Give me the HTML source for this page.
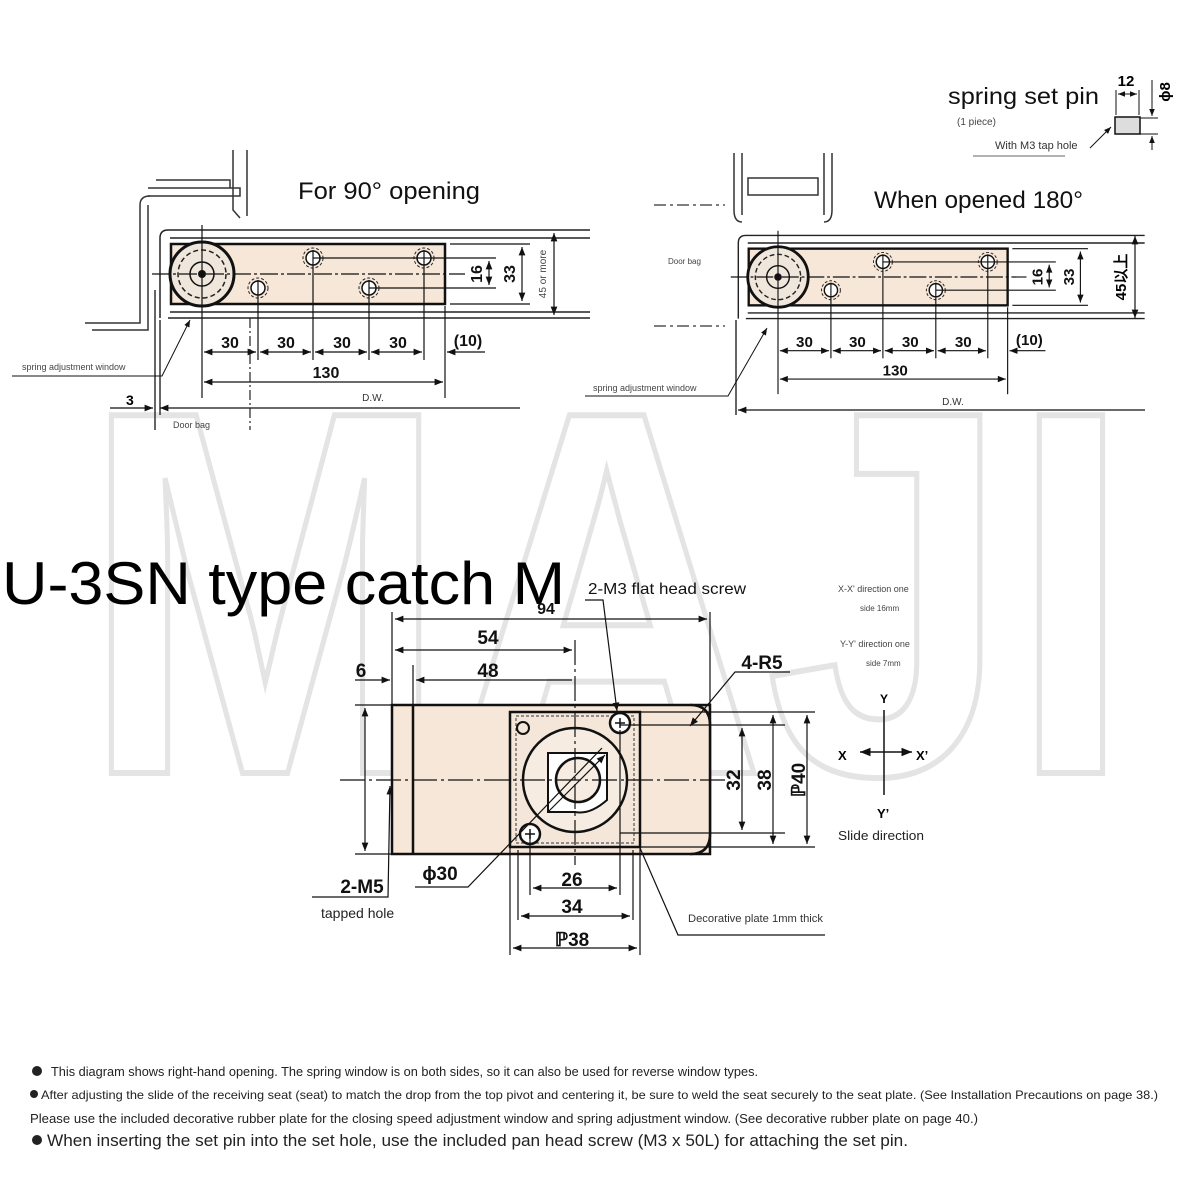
<!DOCTYPE html>
<html><head><meta charset="utf-8"><style>
body{margin:0;background:#fff}
svg{display:block}
text{font-family:"Liberation Sans",sans-serif}
</style></head><body>
<svg width="1200" height="1200" viewBox="0 0 1200 1200" xmlns="http://www.w3.org/2000/svg">
<defs>
<marker id="a" viewBox="0 0 10 10" refX="10" refY="5" markerWidth="9" markerHeight="7" orient="auto-start-reverse"><path d="M0,1 L10,5 L0,9 z" fill="#111"/></marker>
<g id="hinge">
  <path d="M160,318 L160,238 Q160,230 168,230 L590,230 M168,318 L590,318 M170,238 L590,238 M170,312 L590,312" fill="none" stroke="#222" stroke-width="1.5"/>
  <rect x="171" y="244" width="274" height="60" fill="#f7e7d8" stroke="#111" stroke-width="2.5"/>
  <circle cx="202" cy="274" r="32" fill="#efe6dc" stroke="#111" stroke-width="3"/>
  <circle cx="202" cy="274" r="24" fill="none" stroke="#222" stroke-width="1.5" stroke-dasharray="5 3"/>
  <circle cx="202" cy="274" r="12" fill="none" stroke="#111" stroke-width="1.5"/>
  <circle cx="202" cy="274" r="4" fill="#111"/>
  <g fill="#fff" stroke="#111" stroke-width="1.5">
   <circle cx="313" cy="258" r="7"/><circle cx="424" cy="258" r="7"/><circle cx="258" cy="288" r="7"/><circle cx="369" cy="288" r="7"/>
  </g>
  <g fill="none" stroke="#222" stroke-width="1" stroke-dasharray="3 2">
   <circle cx="313" cy="258" r="10"/><circle cx="424" cy="258" r="10"/><circle cx="258" cy="288" r="10"/><circle cx="369" cy="288" r="10"/>
  </g>
  <g stroke="#111" stroke-width="1.2">
   <line x1="152" y1="274" x2="465" y2="274" stroke-dasharray="18 3 3 3"/>
   <line x1="202" y1="225" x2="202" y2="398"/>
   <line x1="258" y1="280" x2="258" y2="360"/>
   <line x1="313" y1="250" x2="313" y2="360"/>
   <line x1="369" y1="280" x2="369" y2="360"/>
   <line x1="424" y1="250" x2="424" y2="360"/>
   <line x1="445" y1="306" x2="445" y2="398"/>
   <line x1="313" y1="258" x2="496" y2="258"/><line x1="369" y1="288" x2="496" y2="288"/>
   <line x1="450" y1="244" x2="530" y2="244"/><line x1="450" y1="304" x2="530" y2="304"/>
   <line x1="489" y1="261" x2="489" y2="285" marker-start="url(#a)" marker-end="url(#a)"/>
   <line x1="522" y1="247" x2="522" y2="301" marker-start="url(#a)" marker-end="url(#a)"/>
   <line x1="204" y1="352" x2="256" y2="352" marker-start="url(#a)" marker-end="url(#a)"/>
   <line x1="260" y1="352" x2="311" y2="352" marker-start="url(#a)" marker-end="url(#a)"/>
   <line x1="315" y1="352" x2="367" y2="352" marker-start="url(#a)" marker-end="url(#a)"/>
   <line x1="371" y1="352" x2="422" y2="352" marker-start="url(#a)" marker-end="url(#a)"/>
   <line x1="447" y1="352" x2="485" y2="352" marker-start="url(#a)"/>
   <line x1="204" y1="382" x2="443" y2="382" marker-start="url(#a)" marker-end="url(#a)"/>
  </g>
  <g font-weight="bold" font-size="16" fill="#111" text-anchor="middle">
   <text x="230" y="348">30</text><text x="286" y="348">30</text><text x="342" y="348">30</text><text x="398" y="348">30</text>
   <text x="468" y="346">(10)</text><text x="326" y="378">130</text>
   <text transform="translate(482,274) rotate(-90)">16</text>
   <text transform="translate(515,274) rotate(-90)">33</text>
  </g>
</g>
</defs>

<text x="82" y="773" font-size="520" font-weight="bold" textLength="1050" lengthAdjust="spacingAndGlyphs" fill="#fff" stroke="#e4e4e4" stroke-width="6">MAJI</text>

<g fill="none" stroke="#333" stroke-width="1.5">
 <path d="M233,150 L233,210 L240,218 M247,150 L247,216 M148,188 L240,188 L240,196 L148,196 M156,180 L230,180 L230,188"/>
 <path d="M85,323 L140,323 L140,205 Q140,196 150,196 M92,330 L148,330 L148,205"/>
 <line x1="155" y1="290" x2="155" y2="430"/><line x1="160" y1="320" x2="160" y2="415"/>
</g>
<use href="#hinge"/>
<line x1="554" y1="233" x2="554" y2="315" stroke="#111" stroke-width="1.2" marker-start="url(#a)" marker-end="url(#a)"/>
<text x="546" y="274" font-size="10" fill="#444" transform="rotate(-90 546 274)" text-anchor="middle">45 or more</text>
<line x1="160" y1="408" x2="520" y2="408" stroke="#111" stroke-width="1.2" marker-start="url(#a)"/>
<line x1="110" y1="408" x2="153" y2="408" stroke="#111" stroke-width="1.2" marker-end="url(#a)"/>
<line x1="250" y1="318" x2="250" y2="430" stroke="#222" stroke-width="1.2" stroke-dasharray="10 3 2 3"/>
<text x="373" y="401" font-size="10" fill="#333" text-anchor="middle">D.W.</text>
<text x="173" y="428" font-size="9" fill="#444">Door bag</text>
<text x="126" y="405" font-size="14" font-weight="bold">3</text>
<text x="22" y="370" font-size="9" fill="#444">spring adjustment window</text>
<polyline points="12,376 162,376 190,320" fill="none" stroke="#111" stroke-width="1" marker-end="url(#a)"/>
<text x="298" y="199" font-size="24" fill="#111" textLength="182" lengthAdjust="spacingAndGlyphs">For 90° opening</text>

<g fill="none" stroke="#333" stroke-width="1.5">
 <path d="M734,153 L734,210 Q734,222 742,222 M742,153 L742,215 M824,153 L824,215 M832,153 L832,210 Q832,222 824,222 M748,178 L818,178 L818,195 L748,195 Z"/>
 <line x1="736" y1="320" x2="736" y2="415"/>
</g>
<line x1="654" y1="205" x2="725" y2="205" stroke="#333" stroke-width="1.2" stroke-dasharray="12 4 3 4"/>
<line x1="654" y1="326" x2="725" y2="326" stroke="#333" stroke-width="1.2" stroke-dasharray="12 4 3 4"/>
<g transform="translate(778,277) scale(0.945) translate(-202,-274)"><use href="#hinge"/></g>
<line x1="1135" y1="236" x2="1135" y2="318" stroke="#111" stroke-width="1.2" marker-start="url(#a)" marker-end="url(#a)"/>
<text x="1126" y="277" font-size="15" font-weight="bold" transform="rotate(-90 1126 277)" text-anchor="middle" font-family="Liberation Sans, Noto Sans CJK SC, sans-serif">45以上</text>
<line x1="738" y1="410" x2="1145" y2="410" stroke="#111" stroke-width="1.2" marker-start="url(#a)"/>
<text x="953" y="405" font-size="10" fill="#333" text-anchor="middle">D.W.</text>
<text x="668" y="264" font-size="8" fill="#444">Door bag</text>
<text x="593" y="391" font-size="9" fill="#444">spring adjustment window</text>
<polyline points="585,396 728,396 767,328" fill="none" stroke="#111" stroke-width="1" marker-end="url(#a)"/>
<text x="874" y="208" font-size="24" fill="#111" textLength="209" lengthAdjust="spacingAndGlyphs">When opened 180°</text>

<text x="948" y="104" font-size="23" fill="#111" textLength="151" lengthAdjust="spacingAndGlyphs">spring set pin</text>
<text x="957" y="125" font-size="10" fill="#444">(1 piece)</text>
<text x="995" y="149" font-size="11" fill="#333">With M3 tap hole</text>
<line x1="973" y1="156" x2="1065" y2="156" stroke="#666"/>
<line x1="1090" y1="148" x2="1111" y2="127" stroke="#111" marker-end="url(#a)"/>
<rect x="1115" y="117" width="25" height="17" fill="#ddd" stroke="#111" stroke-width="1.5"/>
<line x1="1140" y1="118" x2="1158" y2="118" stroke="#111"/><line x1="1140" y1="134" x2="1158" y2="134" stroke="#111"/>
<line x1="1116" y1="90" x2="1116" y2="115" stroke="#111"/><line x1="1139" y1="90" x2="1139" y2="115" stroke="#111"/>
<line x1="1118" y1="94" x2="1137" y2="94" stroke="#111" marker-start="url(#a)" marker-end="url(#a)"/>
<text x="1126" y="86" font-size="15" font-weight="bold" text-anchor="middle">12</text>
<line x1="1152" y1="80" x2="1152" y2="116" stroke="#111" marker-end="url(#a)"/>
<line x1="1152" y1="150" x2="1152" y2="136" stroke="#111" marker-end="url(#a)"/>
<text x="1170" y="92" font-size="15" font-weight="bold" transform="rotate(-90 1170 92)" text-anchor="middle">ϕ8</text>

<text x="2" y="604" font-size="60" fill="#000" textLength="563" lengthAdjust="spacingAndGlyphs">U-3SN type catch M</text>
<rect x="392" y="705" width="318" height="149" fill="#f7e7d8" stroke="#111" stroke-width="2.5"/>
<path d="M690,705 Q710,705 710,725 L710,834 Q710,854 690,854" fill="#f7e7d8" stroke="#111" stroke-width="2.5"/>
<line x1="413" y1="705" x2="413" y2="854" stroke="#111" stroke-width="2.5"/>
<rect x="510" y="712" width="130" height="135" fill="#f4e6d8" stroke="#111" stroke-width="2.5"/>
<rect x="516" y="716" width="118" height="127" fill="none" stroke="#333" stroke-width="1" stroke-dasharray="3 2"/>
<circle cx="575" cy="780" r="52" fill="#f7ece2" stroke="#111" stroke-width="2.5"/>
<path d="M548,753 L607,753 L607,800 Q590,815 575,812 L548,812 Z" fill="#fff" stroke="#111" stroke-width="2"/>
<circle cx="578" cy="780" r="22" fill="#f7ece2" stroke="#111" stroke-width="2.5"/>
<circle cx="620" cy="723" r="10" fill="#fff" stroke="#111" stroke-width="2.5"/>
<circle cx="530" cy="834" r="10" fill="#fff" stroke="#111" stroke-width="2.5"/>
<path d="M615,723 h10 M620,718 v10 M525,834 h10 M530,829 v10" stroke="#111" stroke-width="1.5"/>
<circle cx="523" cy="728" r="6" fill="none" stroke="#111" stroke-width="2"/>
<g stroke="#111" stroke-width="1.2" fill="none">
 <line x1="340" y1="780" x2="725" y2="780" stroke-dasharray="25 4 3 4"/>
 <line x1="575" y1="640" x2="575" y2="865" stroke-dasharray="25 4 3 4"/>
 <line x1="392" y1="612" x2="392" y2="705"/><line x1="710" y1="612" x2="710" y2="705"/>
 <line x1="413" y1="665" x2="413" y2="705"/>
 <line x1="395" y1="619" x2="707" y2="619" marker-start="url(#a)" marker-end="url(#a)"/>
 <line x1="395" y1="650" x2="572" y2="650" marker-start="url(#a)" marker-end="url(#a)"/>
 <line x1="416" y1="680" x2="572" y2="680" marker-start="url(#a)"/>
 <line x1="355" y1="680" x2="390" y2="680" marker-end="url(#a)"/>
 <line x1="355" y1="705" x2="392" y2="705"/><line x1="355" y1="854" x2="392" y2="854"/>
 <line x1="365" y1="708" x2="365" y2="851" marker-start="url(#a)" marker-end="url(#a)"/>
 <line x1="640" y1="712" x2="815" y2="712"/><line x1="620" y1="725" x2="785" y2="725"/><line x1="620" y1="833" x2="785" y2="833"/><line x1="640" y1="847" x2="815" y2="847"/>
 <line x1="742" y1="728" x2="742" y2="830" marker-start="url(#a)" marker-end="url(#a)"/>
 <line x1="773" y1="715" x2="773" y2="844" marker-start="url(#a)" marker-end="url(#a)"/>
 <line x1="807" y1="715" x2="807" y2="844" marker-start="url(#a)" marker-end="url(#a)"/>
 <line x1="530" y1="834" x2="530" y2="895"/><line x1="620" y1="730" x2="620" y2="895"/>
 <line x1="518" y1="850" x2="518" y2="920"/><line x1="633" y1="850" x2="633" y2="920"/>
 <line x1="510" y1="847" x2="510" y2="955"/><line x1="640" y1="847" x2="640" y2="955"/>
 <line x1="533" y1="888" x2="617" y2="888" marker-start="url(#a)" marker-end="url(#a)"/>
 <line x1="521" y1="916" x2="630" y2="916" marker-start="url(#a)" marker-end="url(#a)"/>
 <line x1="513" y1="948" x2="637" y2="948" marker-start="url(#a)" marker-end="url(#a)"/>
 <polyline points="585,600 603,600 617,711" marker-end="url(#a)"/>
 <polyline points="790,672 735,672 690,726" marker-end="url(#a)"/>
 <polyline points="312,897 388,897 390,786" marker-end="url(#a)"/>
 <polyline points="415,887 468,887 602,748"/>
 <polyline points="825,935 678,935 640,848"/>
 <line x1="548" y1="812" x2="605" y2="755" marker-end="url(#a)"/>
</g>
<g font-weight="bold" font-size="19" fill="#111" text-anchor="middle">
 <text x="488" y="644">54</text><text x="488" y="677">48</text><text x="361" y="677">6</text>
 <text x="546" y="614" font-size="16">94</text>
 <text x="762" y="669">4-R5</text>
 <text x="572" y="886">26</text><text x="572" y="913">34</text><text x="572" y="946">ℙ38</text>
 <text x="440" y="880">ϕ30</text>
 <text x="362" y="893">2-M5</text>
 <text transform="translate(740,780) rotate(-90)">32</text>
 <text transform="translate(771,780) rotate(-90)">38</text>
 <text transform="translate(805,780) rotate(-90)">ℙ40</text>
</g>
<text x="588" y="594" font-size="16" fill="#111" textLength="158" lengthAdjust="spacingAndGlyphs">2-M3 flat head screw</text>
<text x="321" y="918" font-size="14" fill="#222">tapped hole</text>
<text x="688" y="922" font-size="11" fill="#333" textLength="135" lengthAdjust="spacingAndGlyphs">Decorative plate 1mm thick</text>
<text x="838" y="592" font-size="9" fill="#444">X-X' direction one</text>
<text x="860" y="611" font-size="8" fill="#444">side 16mm</text>
<text x="840" y="647" font-size="9" fill="#444">Y-Y' direction one</text>
<text x="866" y="666" font-size="8" fill="#444">side 7mm</text>
<line x1="884" y1="710" x2="884" y2="795" stroke="#111" stroke-width="1.5"/>
<line x1="860" y1="752" x2="912" y2="752" stroke="#111" stroke-width="1.5" marker-start="url(#a)" marker-end="url(#a)"/>
<text x="880" y="703" font-size="12" font-weight="bold">Y</text>
<text x="838" y="760" font-size="13" font-weight="bold">X</text>
<text x="916" y="760" font-size="13" font-weight="bold">X’</text>
<text x="877" y="818" font-size="13" font-weight="bold">Y’</text>
<text x="838" y="840" font-size="13" fill="#222" textLength="86" lengthAdjust="spacingAndGlyphs">Slide direction</text>

<g font-size="12" fill="#222">
 <circle cx="37" cy="1071" r="5" fill="#222"/>
 <text x="51" y="1076" font-size="12.5" textLength="707" lengthAdjust="spacingAndGlyphs">This diagram shows right-hand opening. The spring window is on both sides, so it can also be used for reverse window types.</text>
 <circle cx="34" cy="1094" r="4" fill="#222"/>
 <text x="41" y="1099" font-size="12" textLength="1117" lengthAdjust="spacingAndGlyphs">After adjusting the slide of the receiving seat (seat) to match the drop from the top pivot and centering it, be sure to weld the seat securely to the seat plate. (See Installation Precautions on page 38.)</text>
 <text x="30" y="1123" font-size="13" textLength="948" lengthAdjust="spacingAndGlyphs">Please use the included decorative rubber plate for the closing speed adjustment window and spring adjustment window. (See decorative rubber plate on page 40.)</text>
 <circle cx="37" cy="1140" r="5" fill="#222"/>
 <text x="47" y="1146" font-size="17" textLength="861" lengthAdjust="spacingAndGlyphs">When inserting the set pin into the set hole, use the included pan head screw (M3 x 50L) for attaching the set pin.</text>
</g>
</svg>
</body></html>
